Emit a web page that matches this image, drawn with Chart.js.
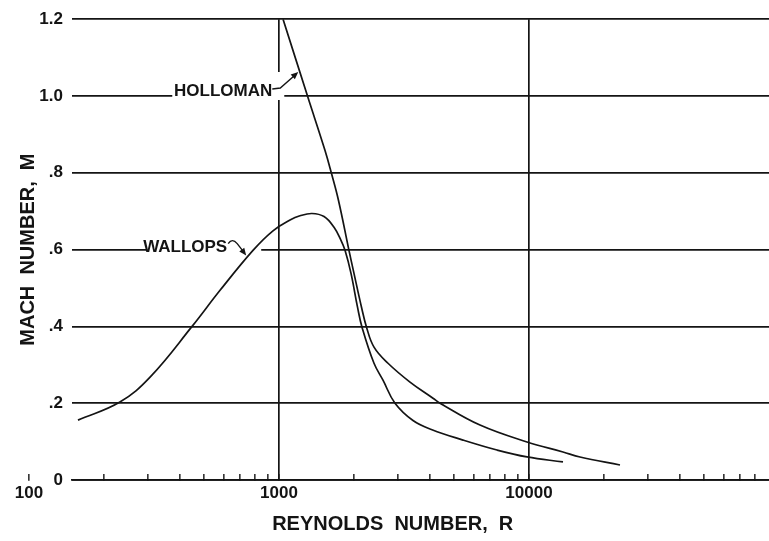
<!DOCTYPE html>
<html>
<head>
<meta charset="utf-8">
<script src="https://cdn.jsdelivr.net/npm/chart.js@4"></script>
<style>
  html, body { margin: 0; padding: 0; background: #fff; }
  canvas { display: block; }
</style>
</head>
<body>
<canvas id="chart" width="769" height="541"></canvas>
<script>
// Wallops curve (Reynolds number, Mach number)
const wallopsR = [157, 231, 305, 449, 581, 787, 946, 1107, 1213, 1355, 1514, 1660, 1770, 1837, 1941, 2061, 2148, 2399, 2606, 2911, 3436, 4093, 5445, 7447, 9817, 13677];
const wallopsM = [0.156, 0.203, 0.268, 0.400, 0.494, 0.598, 0.649, 0.677, 0.688, 0.694, 0.686, 0.658, 0.624, 0.598, 0.538, 0.450, 0.398, 0.304, 0.260, 0.200, 0.155, 0.131, 0.104, 0.078, 0.060, 0.047];

// Holloman curve
const hollomanR = [1038, 1306, 1528, 1622, 1730, 1905, 1995, 2138, 2239, 2399, 2729, 3342, 4130, 4406, 6368, 9817, 13677, 15996, 23121];
const hollomanM = [1.200, 0.996, 0.858, 0.798, 0.728, 0.598, 0.538, 0.450, 0.398, 0.346, 0.304, 0.255, 0.213, 0.200, 0.143, 0.099, 0.073, 0.060, 0.039];

// axis ticks
const xTickValues = [100, 200, 300, 400, 500, 600, 700, 800, 900,
                     1000, 2000, 3000, 4000, 5000, 6000, 7000, 8000, 9000,
                     10000, 20000, 30000, 40000, 50000, 60000, 70000, 80000];
const xLabelValues = [100, 1000, 10000];
const xLabels = ['100', '1000', '10000'];
const xGridValues = [1000, 10000];
const yTickLabels = ['0', '.2', '.4', '.6', '.8', '1.0', '1.2'];

const INK = '#141414';
const FONT = 'Liberation Sans';

function toPoints(xs, ys) {
    return xs.map((x, i) => ({ x: x, y: ys[i] }));
}

function arrowHead(ctx, fromX, fromY, toX, toY, size) {
    const a = Math.atan2(toY - fromY, toX - fromX);
    ctx.beginPath();
    ctx.moveTo(toX, toY);
    ctx.lineTo(toX - size * Math.cos(a - 0.4), toY - size * Math.sin(a - 0.4));
    ctx.lineTo(toX - size * Math.cos(a + 0.4), toY - size * Math.sin(a + 0.4));
    ctx.closePath();
    ctx.fill();
}

// curve labels with their leader arrows
const curveLabels = {
    id: 'curveLabels',
    beforeDatasetsDraw(chart) {
        const { ctx, scales: { x, y } } = chart;
        const hx = x.getPixelForValue(940), hy = y.getPixelForValue(1.0);
        const wx = x.getPixelForValue(760), wy = y.getPixelForValue(0.6);
        ctx.save();
        ctx.fillStyle = '#fff';
        ctx.fillRect(hx - 100, hy - 24, 112, 28);
        ctx.fillRect(wx - 102, wy - 14, 114, 18);
        ctx.restore();
    },
    afterDatasetsDraw(chart) {
        const { ctx, scales: { x, y } } = chart;
        ctx.save();
        ctx.fillStyle = INK;
        ctx.strokeStyle = INK;
        ctx.lineWidth = 1.4;
        ctx.font = 'bold 17px "' + FONT + '"';
        ctx.textAlign = 'right';
        ctx.textBaseline = 'alphabetic';

        // HOLLOMAN
        const hx = x.getPixelForValue(940), hy = y.getPixelForValue(1.0);
        ctx.fillText('HOLLOMAN', hx, hy);
        ctx.beginPath();
        ctx.moveTo(hx, hy - 7);
        ctx.lineTo(hx + 8, hy - 8);
        ctx.lineTo(hx + 24, hy - 22);
        ctx.stroke();
        arrowHead(ctx, hx + 8, hy - 8, hx + 26, hy - 24, 8);

        // WALLOPS
        const wx = x.getPixelForValue(760), wy = y.getPixelForValue(0.6);
        ctx.fillText('WALLOPS', wx - 22, wy + 2);
        ctx.beginPath();
        ctx.moveTo(wx - 21, wy - 6);
        ctx.quadraticCurveTo(wx - 17, wy - 12, wx - 12, wy - 6);
        ctx.lineTo(wx - 5, wy + 3);
        ctx.stroke();
        arrowHead(ctx, wx - 12, wy - 6, wx - 3, wy + 6, 8);
        ctx.restore();
    }
};

Chart.defaults.font.family = FONT;
Chart.defaults.color = INK;

new Chart(document.getElementById('chart'), {
    type: 'line',
    data: {
        datasets: [
            {
                label: 'Wallops',
                data: toPoints(wallopsR, wallopsM),
                borderColor: INK,
                borderWidth: 1.7,
                pointRadius: 0,
                tension: 0.4,
                fill: false
            },
            {
                label: 'Holloman',
                data: toPoints(hollomanR, hollomanM),
                borderColor: INK,
                borderWidth: 1.7,
                pointRadius: 0,
                tension: 0.4,
                fill: false
            }
        ]
    },
    options: {
        responsive: false,
        animation: false,
        devicePixelRatio: 1,
        layout: { padding: { top: 18, right: 0, bottom: 0, left: 0 } },
        plugins: {
            legend: { display: false },
            tooltip: { enabled: false }
        },
        scales: {
            x: {
                type: 'logarithmic',
                min: 148.6,
                max: 91200,
                afterBuildTicks: (scale) => {
                    scale.ticks = xTickValues.map(v => ({ value: v }));
                },
                afterFit: (scale) => {
                    scale.height = 61;
                    scale.paddingLeft = 0;
                    scale.paddingRight = 0;
                },
                grid: {
                    color: (c) => xGridValues.includes(c.tick && c.tick.value) ? INK : 'rgba(0,0,0,0)',
                    tickColor: INK,
                    lineWidth: 1.7,
                    tickWidth: 1.4,
                    tickLength: -6,
                    drawTicks: true
                },
                border: { display: true, color: INK, width: 1.8 },
                ticks: {
                    autoSkip: false,
                    maxRotation: 0,
                    padding: 9,
                    font: { size: 17, weight: 'bold' },
                    callback: (value) => {
                        const i = xLabelValues.indexOf(value);
                        return i >= 0 ? xLabels[i] : '';
                    }
                },
                title: {
                    display: true,
                    // trailing spaces pull the centred title left, as in the original
                    text: 'REYNOLDS  NUMBER,  R          ',
                    font: { size: 20, weight: 'bold' },
                    padding: { top: 8, bottom: 5 }
                }
            },
            y: {
                min: 0,
                max: 1.2,
                afterFit: (scale) => {
                    scale.width = 72;
                },
                grid: {
                    color: INK,
                    lineWidth: 1.7,
                    drawTicks: false
                },
                border: { display: false },
                ticks: {
                    stepSize: 0.2,
                    padding: 9,
                    font: { size: 17, weight: 'bold' },
                    callback: (value) => yTickLabels[Math.round(value / 0.2)]
                },
                title: {
                    display: true,
                    text: 'MACH  NUMBER,  M',
                    font: { size: 20, weight: 'bold' },
                    padding: { top: 16, bottom: 0 }
                }
            }
        }
    },
    plugins: [curveLabels]
});
</script>
</body>
</html>
